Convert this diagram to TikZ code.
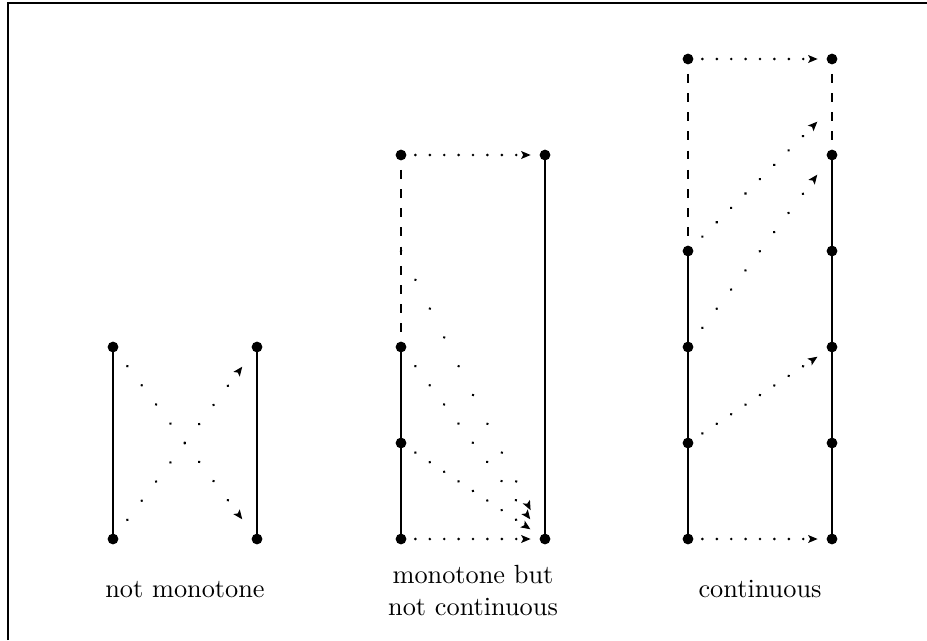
\documentclass[tikz,border=0pt]{standalone}
\usetikzlibrary{arrows.meta,decorations.markings}

\tikzset{
  vtx/.style={circle, fill=black, inner sep=0pt, minimum size=4.1pt},
  plain/.style={line width=0.4pt},
  dashline/.style={line width=0.4pt, dash pattern=on 3.3pt off 4.0pt, dash phase=1.65pt},
  dotarrow/.style={
    decoration={markings,
      mark=between positions 0 and 0.85 step 0.1 with {\fill (0,0) circle (0.55pt);},
      mark=at position 0.9 with {\arrow{Stealth[length=3.6pt,width=3pt,inset=0.8pt]}}},
    decorate},
  lbl/.style={inner sep=0pt, font=\normalsize}
}

\begin{document}
\begin{tikzpicture}[x=0.3802pt, y=-0.3802pt]
  \useasboundingbox (0,0) rectangle (927,640);

  % frame
  \draw[line width=0.4pt] (8,640) -- (8,3) -- (927,3);

  % ---- not monotone ----
  \node[vtx] (a1) at (113,347) {};
  \node[vtx] (a2) at (113,539) {};
  \node[vtx] (a3) at (257,347) {};
  \node[vtx] (a4) at (257,539) {};
  \draw[plain] (a1.center) -- (a2.center);
  \draw[plain] (a3.center) -- (a4.center);
  \path[dotarrow] (a1.center) -- (a4.center);
  \path[dotarrow] (a2.center) -- (a3.center);
  \node[lbl, anchor=base] (l1) at (185,597) {not monotone};

  % ---- monotone but not continuous ----
  \node[vtx] (b1) at (401,155) {};
  \node[vtx] (b2) at (401,347) {};
  \node[vtx] (b3) at (401,443) {};
  \node[vtx] (b4) at (401,539) {};
  \node[vtx] (b5) at (545,155) {};
  \node[vtx] (b6) at (545,539) {};
  \coordinate (bm) at (401,251);
  \draw[dashline] (b1.center) -- (b2.center);
  \draw[plain] (b2.center) -- (b3.center) -- (b4.center);
  \draw[plain] (b5.center) -- (b6.center);
  \path[dotarrow] (b1.center) -- (b5.center);
  \path[dotarrow] (b4.center) -- (b6.center);
  \path[dotarrow] (bm) -- (b6.center);
  \path[dotarrow] (b2.center) -- (b6.center);
  \path[dotarrow] (b3.center) -- (b6.center);
  \node[lbl, anchor=base, align=center] (l2) at (473,615) {monotone but\\not continuous};

  % ---- continuous ----
  \node[vtx] (c1) at (688,59) {};
  \node[vtx] (c2) at (688,251) {};
  \node[vtx] (c3) at (688,347) {};
  \node[vtx] (c4) at (688,443) {};
  \node[vtx] (c5) at (688,539) {};
  \node[vtx] (d1) at (832,59) {};
  \node[vtx] (d2) at (832,155) {};
  \node[vtx] (d3) at (832,251) {};
  \node[vtx] (d4) at (832,347) {};
  \node[vtx] (d5) at (832,443) {};
  \node[vtx] (d6) at (832,539) {};
  \coordinate (dm) at (832,107);
  \draw[dashline] (c1.center) -- (c2.center);
  \draw[dashline] (d1.center) -- (d2.center);
  \draw[plain] (c2.center) -- (c3.center) -- (c4.center) -- (c5.center);
  \draw[plain] (d2.center) -- (d3.center) -- (d4.center) -- (d5.center) -- (d6.center);
  \path[dotarrow] (c1.center) -- (d1.center);
  \path[dotarrow] (c5.center) -- (d6.center);
  \path[dotarrow] (c4.center) -- (d4.center);
  \path[dotarrow] (c3.center) -- (d2.center);
  \path[dotarrow] (c2.center) -- (dm);
  \node[lbl, anchor=base] (l3) at (760,597) {continuous};
\end{tikzpicture}
\end{document}
